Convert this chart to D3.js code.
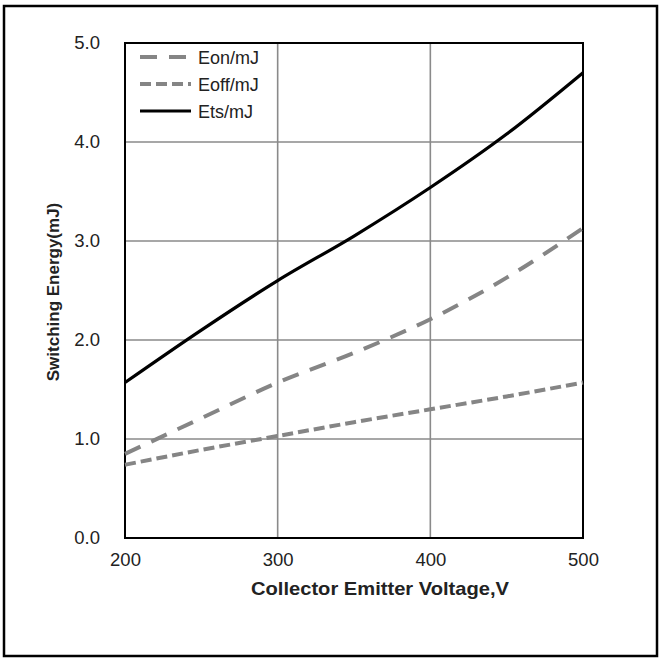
<!DOCTYPE html>
<html>
<head>
<meta charset="utf-8">
<script src="https://cdn.jsdelivr.net/npm/d3@7"></script>
<style>
  body { margin: 0; background: #fff; }
  text { font-family: "Liberation Sans", Arial, sans-serif; }
</style>
</head>
<body>
<script>
// data
var voltage = [200, 250, 300, 350, 400, 450, 500];
var eon  = [0.85, 1.21, 1.57, 1.87, 2.21, 2.63, 3.13];
var eoff = [0.74, 0.89, 1.03, 1.17, 1.30, 1.43, 1.57];
var ets  = [1.57, 2.10, 2.60, 3.05, 3.54, 4.08, 4.70];
var xTicks = [200, 300, 400, 500];
var yTicks = [0, 1, 2, 3, 4, 5];

var series = [
  { name: "Eon/mJ", values: eon, color: "#858585", width: 4, dash: "17,12" },
  { name: "Eoff/mJ", values: eoff, color: "#858585", width: 4, dash: "11,5" },
  { name: "Ets/mJ", values: ets, color: "#000", width: 3.2, dash: null }
];

var margin = { top: 43, right: 77, bottom: 122, left: 125 },
    width = 660 - margin.left - margin.right,
    height = 660 - margin.top - margin.bottom;

var svg = d3.select("body").append("svg")
    .attr("width", 660)
    .attr("height", 660);

// outer frame
svg.append("rect")
    .attr("x", 4).attr("y", 6)
    .attr("width", 653).attr("height", 650)
    .attr("fill", "none")
    .attr("stroke", "#000")
    .attr("stroke-width", 2.5);

var g = svg.append("g")
    .attr("transform", "translate(" + margin.left + "," + margin.top + ")");

var x = d3.scaleLinear().domain([200, 500]).range([0, width]);
var y = d3.scaleLinear().domain([0, 5]).range([height, 0]);

// grid
g.selectAll(".hgrid")
    .data(yTicks.slice(1, -1))
    .enter().append("line")
    .attr("x1", 0).attr("x2", width)
    .attr("y1", d => y(d)).attr("y2", d => y(d))
    .attr("stroke", "#8a8a8a")
    .attr("stroke-width", 1.6);

g.selectAll(".vgrid")
    .data(xTicks.slice(1, -1))
    .enter().append("line")
    .attr("y1", 0).attr("y2", height)
    .attr("x1", d => x(d)).attr("x2", d => x(d))
    .attr("stroke", "#8a8a8a")
    .attr("stroke-width", 1.6);

// axes
var xAxis = g.append("g")
    .attr("transform", "translate(0," + height + ")")
    .call(d3.axisBottom(x).tickValues(xTicks).tickSize(0).tickPadding(15).tickFormat(d3.format("d")));
var yAxis = g.append("g")
    .call(d3.axisLeft(y).tickValues(yTicks).tickSize(0).tickPadding(25).tickFormat(d3.format(".1f")));

[xAxis, yAxis].forEach(function (a) {
    a.select(".domain").remove();
    a.selectAll("text")
        .attr("font-size", 18.5)
        .attr("fill", "#222")
        .style("font-family", "'Liberation Sans', Arial, sans-serif");
});

// plot frame
g.append("rect")
    .attr("width", width).attr("height", height)
    .attr("fill", "none")
    .attr("stroke", "#000")
    .attr("stroke-width", 2);

// lines
var line = d3.line()
    .x((d, i) => x(voltage[i]))
    .y(d => y(d))
    .curve(d3.curveMonotoneX);

series.forEach(function (s) {
    g.append("path")
        .datum(s.values)
        .attr("d", line)
        .attr("fill", "none")
        .attr("stroke", s.color)
        .attr("stroke-width", s.width)
        .attr("stroke-dasharray", s.dash);
});

// legend
var legend = g.selectAll(".legend")
    .data(series)
    .enter().append("g")
    .attr("transform", (d, i) => "translate(15," + (14 + i * 27) + ")");

legend.append("line")
    .attr("x1", 0).attr("x2", 51)
    .attr("stroke", d => d.color)
    .attr("stroke-width", d => d.width)
    .attr("stroke-dasharray", d => d.dash);

legend.append("text")
    .attr("x", 58).attr("y", 6.5)
    .attr("font-size", 18)
    .attr("fill", "#222")
    .text(d => d.name);

// axis titles
svg.append("text")
    .attr("x", 380).attr("y", 595)
    .attr("text-anchor", "middle")
    .attr("font-size", 18.5)
    .attr("font-weight", "bold")
    .attr("fill", "#222")
    .attr("textLength", 258)
    .attr("lengthAdjust", "spacingAndGlyphs")
    .text("Collector Emitter Voltage,V");

svg.append("text")
    .attr("transform", "translate(59,292) rotate(-90)")
    .attr("text-anchor", "middle")
    .attr("font-size", 17)
    .attr("font-weight", "bold")
    .attr("fill", "#222")
    .text("Switching Energy(mJ)");
</script>
</body>
</html>
